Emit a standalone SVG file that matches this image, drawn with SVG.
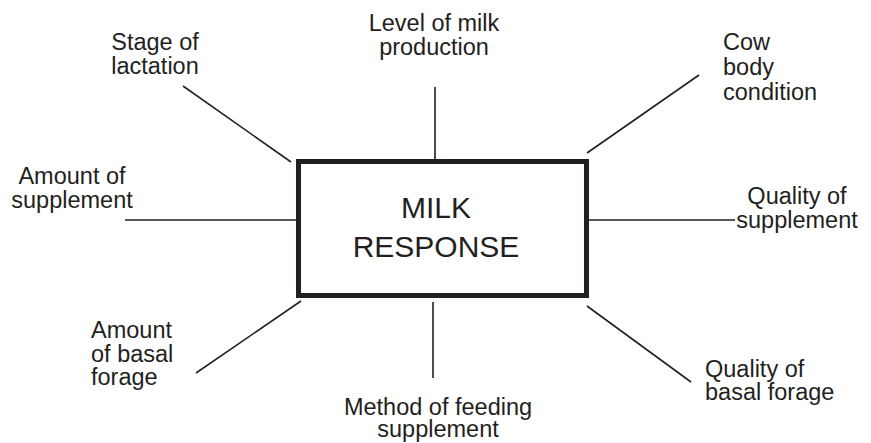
<svg xmlns="http://www.w3.org/2000/svg" width="871" height="443" viewBox="0 0 871 443">
<style>
text{font-family:"Liberation Sans",Arial,sans-serif;font-size:23.5px;fill:#231f20}
.c{text-anchor:middle}
.big{font-size:30px}
.conn line{stroke:#231f20;stroke-width:1.6}
.box{fill:#fff;stroke:#231f20;stroke-width:5}
</style>
<rect width="871" height="443" fill="#fff"/>
<g id="connectors" class="conn">
<line x1="183" y1="86" x2="291" y2="162"/>
<line x1="435" y1="87" x2="435" y2="159"/>
<line x1="699" y1="75" x2="587" y2="153"/>
<line x1="125" y1="220" x2="296" y2="220"/>
<line x1="588" y1="220" x2="735" y2="220"/>
<line x1="196" y1="373" x2="301" y2="301"/>
<line x1="433" y1="302" x2="433" y2="378"/>
<line x1="587" y1="306" x2="691" y2="382"/>
</g>
<g id="milk-response">
<rect class="box" x="298.5" y="161.5" width="288" height="134"/>
<text class="c big" x="436" y="218">MILK</text>
<text class="c big" x="436" y="257">RESPONSE</text>
</g>
<g id="stage-of-lactation">
<text class="c" x="155" y="50">Stage of</text>
<text class="c" x="155" y="74">lactation</text>
</g>
<g id="level-of-milk-production">
<text class="c" x="434" y="31">Level of milk</text>
<text class="c" x="434" y="55">production</text>
</g>
<g id="cow-body-condition">
<text x="723" y="50">Cow</text>
<text x="723" y="75">body</text>
<text x="723" y="100">condition</text>
</g>
<g id="amount-of-supplement">
<text class="c" x="72" y="184">Amount of</text>
<text class="c" x="72" y="208">supplement</text>
</g>
<g id="quality-of-supplement">
<text class="c" x="797" y="204">Quality of</text>
<text class="c" x="797" y="228">supplement</text>
</g>
<g id="amount-of-basal-forage">
<text x="91" y="338">Amount</text>
<text x="91" y="362">of basal</text>
<text x="91" y="385">forage</text>
</g>
<g id="method-of-feeding-supplement">
<text class="c" x="438" y="415">Method of feeding</text>
<text class="c" x="438" y="437">supplement</text>
</g>
<g id="quality-of-basal-forage">
<text x="705" y="377">Quality of</text>
<text x="705" y="400">basal forage</text>
</g>
</svg>
